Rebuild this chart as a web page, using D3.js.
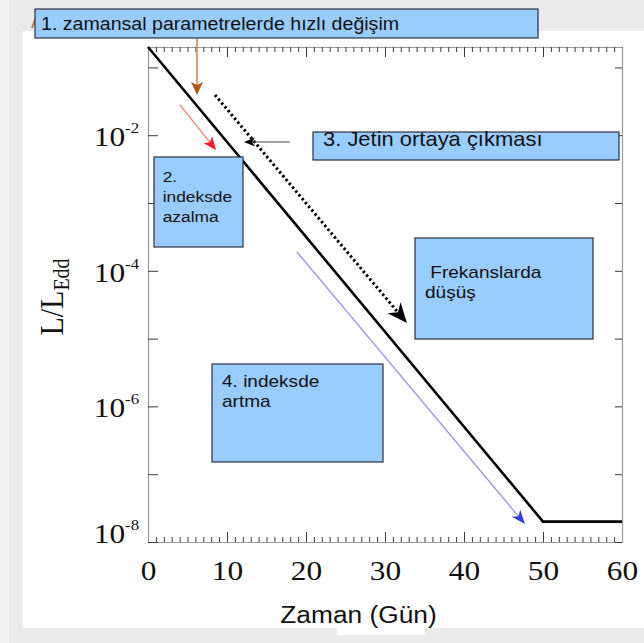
<!DOCTYPE html>
<html>
<head>
<meta charset="utf-8">
<script src="https://cdn.jsdelivr.net/npm/d3@7/dist/d3.min.js"></script>
<style>
  html, body { margin: 0; padding: 0; background: #ebebeb; }
  svg { display: block; }
</style>
</head>
<body>
<svg id="chart" width="644" height="643"></svg>
<script>
// Light curve: L/L_Edd against time in days (log scale)
const days = [0, 50, 60];
const lumRatio = [0.2, 2e-8, 2e-8];

// Axis ticks
const dayTicks = [0, 10, 20, 30, 40, 50, 60];
const dayMinorTicks = d3.range(0, 61, 1);
const decadeTicks = [1e-1, 1e-2, 1e-3, 1e-4, 1e-5, 1e-6, 1e-7, 1e-8];
const labelledExponents = [-2, -4, -6, -8];

// Annotation arrows, ends given as [day, log10(L/L_Edd)]
const arrowNames = ["parametre", "azalma", "frekans", "jet", "artma"];
const arrowStarts = [[6.2, -0.566], [4.05, -1.555], [8.48, -1.407], [17.97, -2.100], [18.86, -3.723]];
const arrowTips = [[6.2, -1.407], [8.61, -2.218], [32.78, -4.770], [12.15, -2.100], [47.72, -7.735]];

// Callout texts
const calloutTexts = [
  ["1. zamansal parametrelerde hızlı değişim"],
  ["2.", "indeksde", "azalma"],
  ["3. Jetin ortaya çıkması"],
  [" Frekanslarda", "düşüş"],
  ["4. indeksde", "artma"]
];

const svg = d3.select("#chart");
const W = 644, H = 643;
const plot = { left: 148, right: 622, top: 47, bottom: 542 };
const SX = 1.12; // horizontal glyph widening used for all text

// Page background: grey margin with a white sheet
svg.append("rect").attr("x", 0).attr("y", 0).attr("width", W).attr("height", H).attr("fill", "#ebebeb");
svg.append("rect").attr("x", 0).attr("y", 0).attr("width", 9).attr("height", H).attr("fill", "#f3f3f3");
svg.append("rect").attr("x", 23).attr("y", 31).attr("width", W - 23).attr("height", 597).attr("fill", "#ffffff");
svg.append("rect").attr("x", 337).attr("y", 620).attr("width", 88).attr("height", 15).attr("fill", "#ffffff");

const x = d3.scaleLinear().domain([0, 60]).range([plot.left, plot.right]);
const y = d3.scaleLog().domain([1e-8, 0.2]).range([plot.bottom, plot.top]);
const yl = lg => y(Math.pow(10, lg));

const frameColor = "#9a9a9a";
const tickColor = "#3a3a3a";

function styleAxis(g, keepDomain) {
  g.select(".domain").attr("stroke", keepDomain ? frameColor : "none").attr("stroke-width", 1.2);
  g.selectAll(".tick line").attr("stroke", tickColor).attr("stroke-width", 1);
}

// Bottom axis: minor and major ticks pointing inward
svg.append("g").attr("transform", `translate(0,${plot.bottom})`)
  .call(d3.axisBottom(x).tickValues(dayMinorTicks).tickSize(-5).tickSizeOuter(0).tickFormat(""))
  .call(g => styleAxis(g, true));
const xAxis = svg.append("g").attr("transform", `translate(0,${plot.bottom})`)
  .call(d3.axisBottom(x).tickValues(dayTicks).tickSize(-10).tickSizeOuter(0).tickPadding(18).tickFormat(d3.format("d")))
  .call(g => styleAxis(g, false));
xAxis.selectAll(".tick text")
  .attr("font-family", "'Liberation Serif', 'Times New Roman', serif")
  .attr("font-size", 28).attr("fill", "#111")
  .attr("transform", `scale(${SX},1)`);

// Top axis (mirror, no labels)
svg.append("g").attr("transform", `translate(0,${plot.top})`)
  .call(d3.axisTop(x).tickValues(dayMinorTicks).tickSize(-5).tickSizeOuter(0).tickFormat(""))
  .call(g => styleAxis(g, true));
svg.append("g").attr("transform", `translate(0,${plot.top})`)
  .call(d3.axisTop(x).tickValues(dayTicks).tickSize(-10).tickSizeOuter(0).tickFormat(""))
  .call(g => styleAxis(g, false));

// Left axis with power-of-ten labels
const yAxis = svg.append("g").attr("transform", `translate(${plot.left},0)`)
  .call(d3.axisLeft(y).tickValues(decadeTicks).tickSize(-10).tickSizeOuter(0).tickPadding(8).tickFormat(""))
  .call(g => styleAxis(g, true));
yAxis.selectAll(".tick").each(function (d) {
  const exp = Math.round(Math.log10(d));
  if (!labelledExponents.includes(exp)) return;
  const t = d3.select(this).select("text")
    .attr("font-family", "'Liberation Serif', 'Times New Roman', serif")
    .attr("font-size", 28).attr("fill", "#111")
    .attr("dy", exp === -8 ? "0em" : "0.37em")
    .attr("transform", `scale(${SX},1)`);
  t.text(null);
  t.append("tspan").text("10");
  t.append("tspan").attr("dy", -13).attr("font-size", 15).text(String(exp));
});

// Right axis (mirror, no labels)
svg.append("g").attr("transform", `translate(${plot.right},0)`)
  .call(d3.axisRight(y).tickValues(decadeTicks).tickSize(-7).tickSizeOuter(0).tickFormat(""))
  .call(g => styleAxis(g, true));

// Axis titles
svg.append("text")
  .attr("transform", `translate(358.5,623) scale(${SX},1)`)
  .attr("text-anchor", "middle")
  .attr("font-family", "'Liberation Sans', Arial, sans-serif")
  .attr("font-size", 23.5).attr("fill", "#111")
  .text("Zaman (Gün)");

const yTitle = svg.append("text")
  .attr("transform", `translate(63,297) scale(${SX},1) rotate(-90)`)
  .attr("text-anchor", "middle")
  .attr("font-family", "'Liberation Serif', 'Times New Roman', serif")
  .attr("fill", "#111");
yTitle.append("tspan").attr("font-size", 30).text("L/L");
yTitle.append("tspan").attr("font-size", 20).attr("dy", 5.5).text("Edd");

// Light curve
const curve = days.map((d, i) => [d, lumRatio[i]]);
svg.append("path")
  .datum(curve)
  .attr("fill", "none")
  .attr("stroke", "#000")
  .attr("stroke-width", 2.6)
  .attr("stroke-linejoin", "miter")
  .attr("d", d3.line().x(d => x(d[0])).y(d => y(d[1])));

// Arrow drawing helper
function drawArrow(start, tip, opt) {
  const a = [x(start[0]), yl(start[1])];
  const b = [x(tip[0]), yl(tip[1])];
  const ang = Math.atan2(b[1] - a[1], b[0] - a[0]);
  const c = Math.cos(ang), s = Math.sin(ang);
  const base = [b[0] - opt.headLen * c, b[1] - opt.headLen * s];
  const shaftEnd = [b[0] - opt.headLen * 0.6 * c, b[1] - opt.headLen * 0.6 * s];
  const line = svg.append("line")
    .attr("x1", a[0]).attr("y1", a[1]).attr("x2", shaftEnd[0]).attr("y2", shaftEnd[1])
    .attr("stroke", opt.shaft).attr("stroke-width", opt.width);
  if (opt.dash) line.attr("stroke-dasharray", opt.dash);
  const hw = opt.headWid / 2;
  const notch = opt.notch || 0;
  const back = [b[0] - (opt.headLen - notch) * c, b[1] - (opt.headLen - notch) * s];
  svg.append("path")
    .attr("d", `M${b[0]},${b[1]} L${base[0] - hw * s},${base[1] + hw * c} L${back[0]},${back[1]} L${base[0] + hw * s},${base[1] - hw * c} Z`)
    .attr("fill", opt.head);
}

const arrowStyles = {
  parametre: { shaft: "#c58a5c", head: "#b4541c", width: 1.6, headLen: 13, headWid: 12, notch: 3 },
  azalma: { shaft: "#ec8f86", head: "#f21d1d", width: 1.5, headLen: 13, headWid: 11, notch: 3 },
  frekans: { shaft: "#000", head: "#000", width: 3, dash: "2.4,2.6", headLen: 20, headWid: 17, notch: 6 },
  jet: { shaft: "#444", head: "#000", width: 1.2, headLen: 11, headWid: 9, notch: 3 },
  artma: { shaft: "#9a9ae2", head: "#2e3fe0", width: 1.4, headLen: 14, headWid: 11, notch: 4 }
};

// Short brown stroke peeking out beside the first callout
svg.append("line").attr("x1", 32).attr("y1", 28).attr("x2", 36).attr("y2", 17)
  .attr("stroke", "#b8794a").attr("stroke-width", 2);

arrowNames.forEach((n, i) => drawArrow(arrowStarts[i], arrowTips[i], arrowStyles[n]));

// Callout boxes
const boxes = [
  { x: 35, y: 9, w: 503, h: 29, tx: [41], ty: [29.5], fs: 17.5 },
  { x: 154, y: 157, w: 89, h: 90, tx: [162.7, 162.7, 162.7], ty: [182, 202, 222], fs: 15.5 },
  { x: 313, y: 132, w: 306, h: 28, tx: [323], ty: [146], fs: 19.6 },
  { x: 415, y: 238, w: 178, h: 101, tx: [425, 425], ty: [278.3, 298.3], fs: 17 },
  { x: 212, y: 364, w: 171, h: 98, tx: [222, 222], ty: [387, 407], fs: 17 }
];

boxes.forEach((b, i) => {
  svg.append("rect")
    .attr("x", b.x).attr("y", b.y).attr("width", b.w).attr("height", b.h)
    .attr("fill", "#99ccff").attr("stroke", "#2b2f40").attr("stroke-width", 1.2);
  calloutTexts[i].forEach((line, j) => {
    svg.append("text")
      .attr("transform", `translate(${b.tx[j]},${b.ty[j]}) scale(${SX},1)`)
      .attr("font-family", "'Liberation Sans', Arial, sans-serif")
      .attr("font-size", b.fs).attr("fill", "#111")
      .attr("xml:space", "preserve")
      .style("white-space", "pre")
      .text(line);
  });
});
</script>
</body>
</html>
